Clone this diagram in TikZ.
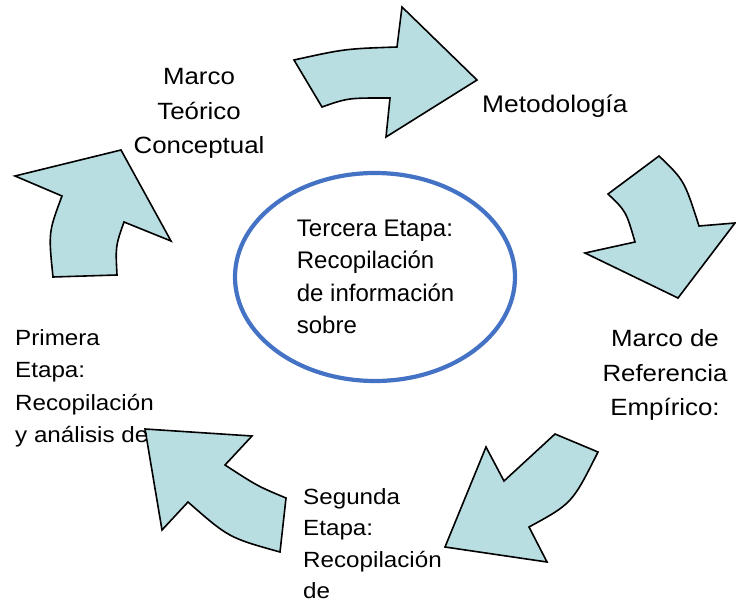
\documentclass[tikz,border=0pt]{standalone}
\usepackage{fontspec}
\setmainfont{Liberation Sans}
\newfontfamily\widefont{Liberation Sans}[FakeStretch=1.1]
\definecolor{arrowfill}{RGB}{184,222,226}
\definecolor{ellblue}{RGB}{68,114,196}
\tikzset{
  bigarrow/.style={fill=arrowfill, draw=black, line width=1.6pt, line join=miter},
  outertext/.style={inner sep=0pt, font=\widefont\fontsize{22}{32.3}\selectfont},
  shorttext/.style={inner sep=0pt, font=\widefont\fontsize{22}{31.6}\selectfont},
  talltext/.style={inner sep=0pt, font=\widefont\fontsize{23.5}{34.5}\selectfont},
  innertext/.style={inner sep=0pt, font=\fontsize{24}{32.5}\selectfont}
}
\begin{document}
\begin{tikzpicture}[x=1pt,y=-1pt]
\useasboundingbox (0,0) rectangle (736,602);
% arrows
\path[bigarrow] (294,60) .. controls (344.8,48.8) .. (397,47) -- (402,7) -- (477,80) -- (386,137) -- (390,98) .. controls (348,97.9) .. (322,107) -- cycle;
\path[bigarrow] (659,156) -- (608,194) .. controls (626.1,211.3) .. (635,242) -- (585,253) -- (678,298) -- (735,223) -- (699,226) .. controls (684.3,180.3) .. (659,156) -- cycle;
\path[bigarrow] (555,434) -- (598,452) .. controls (572.1,503.5) .. (529,527) -- (547,562) -- (445,547) -- (486,447) -- (504,481) .. controls (530.1,456.8) .. (555,434) -- cycle;
\path[bigarrow] (145,429) -- (252,436) -- (225,465) .. controls (257.5,486.1) .. (286,498) -- (280,552) .. controls (228.7,537.7) .. (188,502) -- (162,530) -- cycle;
\path[bigarrow] (15,176) -- (121,150) -- (171,241) -- (124,222) .. controls (115.5,246.1) .. (117,275) -- (53,277) .. controls (48.4,232.3) .. (62,196) -- cycle;
% ellipse
\draw[ellblue, line width=4.2pt] (375,277) ellipse [x radius=140, y radius=104];
% texts
\node[talltext, anchor=north, align=center] (marco) at (199,68.5) {Marco\\Teórico\\Conceptual};
\node[inner sep=0pt, font=\widefont\fontsize{24}{32.5}\selectfont, anchor=base west] (metod) at (482,112) {Metodología};
\node[talltext, anchor=north, align=center] (ref) at (665,329.5) {Marco de\\Referencia\\Empírico:};
\node[shorttext, anchor=north west, align=left] (segunda) at (303,488) {Segunda\\Etapa:\\Recopilación\\de};
\node[outertext, anchor=north west, align=left] (primera) at (15,329.5) {Primera\\Etapa:\\Recopilación\\y análisis de};
\node[innertext, anchor=north west, align=left] (tercera) at (296.7,219.5) {Tercera Etapa:\\Recopilación\\de información\\sobre};
\end{tikzpicture}
\end{document}
